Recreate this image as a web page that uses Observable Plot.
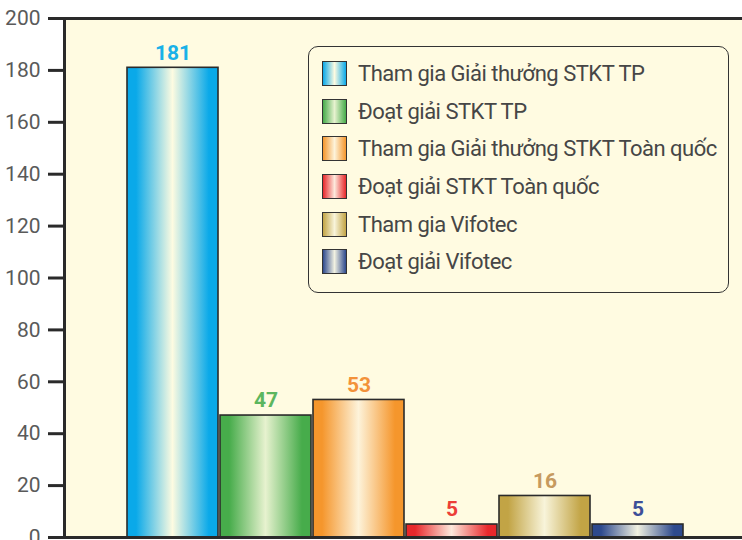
<!DOCTYPE html>
<html>
<head>
<meta charset="utf-8">
<script src="https://cdn.jsdelivr.net/npm/d3@7"></script>
<script src="https://cdn.jsdelivr.net/npm/@observablehq/plot@0.6"></script>
<style>
  html, body { margin: 0; padding: 0; background: #ffffff; }
  #wrap { position: relative; width: 742px; height: 540px; font-family: Roboto, "Open Sans", sans-serif; }
  #legend {
    position: absolute; left: 308px; top: 46px; width: 419px; height: 237px;
    border: 1.6px solid #333; border-radius: 10px; background: #fffbe1;
    padding-top: 8px; box-sizing: content-box;
  }
  .row { display: flex; align-items: center; height: 37.6px; padding-left: 13px; }
  .sw { width: 23px; height: 23px; border: 1.6px solid #333; margin-right: 11px; flex: none; }
  .lbl { font-size: 22px; color: #464646; white-space: nowrap; letter-spacing: -0.5px; }
</style>
</head>
<body>
<div id="wrap"><div id="chart"></div><div id="legend"></div></div>
<script>
const categories = [
  "Tham gia Giải thưởng STKT TP",
  "Đoạt giải STKT TP",
  "Tham gia Giải thưởng STKT Toàn quốc",
  "Đoạt giải STKT Toàn quốc",
  "Tham gia Vifotec",
  "Đoạt giải Vifotec"
];
const values = [181, 47, 53, 5, 16, 5];
const yTicks = [0, 20, 40, 60, 80, 100, 120, 140, 160, 180, 200];
const edgeColors = ["#0aa9e9", "#47ac4b", "#f5962c", "#e8282c", "#c2a445", "#2e4a8e"];
const centerColors = ["#fdfbe1", "#e7f2cf", "#fdf3da", "#fde9dc", "#f8f4da", "#f1f1e1"];
const labelColors = ["#19b1e8", "#5cb65e", "#f3923a", "#ec3e37", "#c69a5e", "#3d4f98"];

const data = categories.map((c, i) => ({cat: c, value: values[i], i}));

const chart = Plot.plot({
  width: 742,
  height: 540,
  marginLeft: 64,
  marginRight: 0,
  marginTop: 18,
  marginBottom: 3,
  style: {fontFamily: "Roboto, 'Open Sans', sans-serif", background: "transparent"},
  color: {type: "identity"},
  x: {domain: categories, paddingInner: 0.02, paddingOuter: 0.648, align: 0.52, axis: null},
  y: {domain: [0, 200], label: null},
  marks: [
    Plot.frame({fill: "#fffbe1", stroke: "none"}),
    Plot.barY(data, {x: "cat", y: "value", fill: d => `url(#grad${d.i})`, stroke: "#2b2b2b", strokeWidth: 1.6}),
    Plot.text(data, {x: "cat", y: "value", text: d => String(d.value), dy: -15, fill: d => labelColors[d.i], fontWeight: "bold", fontSize: 21}),
    Plot.axisY({ticks: yTicks, tickSize: 16, text: null, stroke: "#2a2a2a", strokeWidth: 3}),
    Plot.axisY({ticks: yTicks, tickSize: 0, tickPadding: 24, fill: "#5a5a5a", fontSize: 21}),
    Plot.ruleY([0, 200], {stroke: "#2a2a2a", strokeWidth: 3}),
    Plot.frame({anchor: "left", stroke: "#2a2a2a", strokeWidth: 3})
  ]
});

// gradient definitions
const defs = d3.select(chart).insert("defs", ":first-child");
edgeColors.forEach((ec, i) => {
  const g = defs.append("linearGradient").attr("id", `grad${i}`).attr("x1", "0").attr("x2", "1").attr("y1", "0").attr("y2", "0");
  [[0, ec], [0.1, ec], [0.5, centerColors[i]], [0.9, ec], [1, ec]].forEach(([o, c]) => {
    g.append("stop").attr("offset", o).attr("stop-color", c);
  });
});

document.getElementById("chart").appendChild(chart);

// legend
const legend = d3.select("#legend");
categories.forEach((c, i) => {
  const row = legend.append("div").attr("class", "row");
  row.append("div").attr("class", "sw")
    .style("background", `linear-gradient(to right, ${edgeColors[i]} 0%, ${centerColors[i]} 50%, ${edgeColors[i]} 100%)`);
  row.append("div").attr("class", "lbl").text(c);
});
</script>
</body>
</html>
